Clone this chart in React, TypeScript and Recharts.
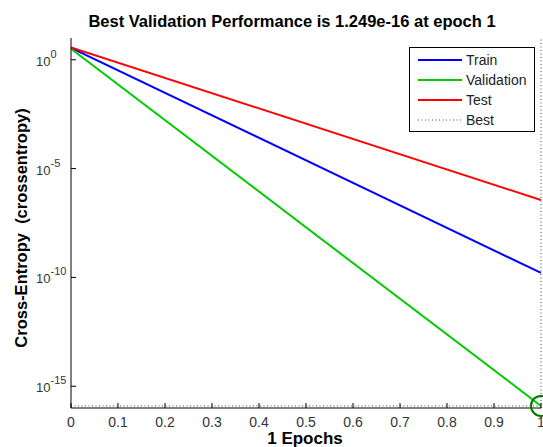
import React from 'react';
import { LineChart, Line, XAxis, YAxis, ReferenceLine, ReferenceDot } from 'recharts';

const epochs = [0, 1];
const trainPerf = [3.55, 1.6e-10];
const validationPerf = [3.2, 1.249e-16];
const testPerf = [3.7, 3.6e-7];
const bestEpoch = 1;
const bestPerf = 1.249e-16;
const xTicks = [0, 0.1, 0.2, 0.3, 0.4, 0.5, 0.6, 0.7, 0.8, 0.9, 1];
const xTickLabels = ['0', '0.1', '0.2', '0.3', '0.4', '0.5', '0.6', '0.7', '0.8', '0.9', '1'];
const yTicks = [1, 1e-5, 1e-10, 1e-15];
const yExponents = ['0', '-5', '-10', '-15'];
const seriesNames = ['Train', 'Validation', 'Test', 'Best'];
const seriesColors = ['#0000ff', '#00cc00', '#ff0000', '#2e5e2e'];

const data = epochs.map((e, i) => ({
  epoch: e,
  train: trainPerf[i],
  validation: validationPerf[i],
  test: testPerf[i],
}));

const FONT = '"Liberation Sans", Arial, Helvetica, sans-serif';

const XTick = (props: any) => {
  const { x, y, payload } = props;
  const idx = xTicks.indexOf(payload.value);
  return (
    <g>
      <line x1={x} y1={y} x2={x} y2={y - 5} stroke="#000" strokeWidth={1} />
      <text x={x} y={y + 19} textAnchor="middle" fontSize={14} fontFamily={FONT} fill="#333">
        {idx >= 0 ? xTickLabels[idx] : String(payload.value)}
      </text>
    </g>
  );
};

const YTick = (props: any) => {
  const { x, y, payload } = props;
  const idx = yTicks.indexOf(payload.value);
  return (
    <g>
      <line x1={x} y1={y} x2={x + 5} y2={y} stroke="#000" strokeWidth={1} />
      <text x={x - 35} y={y + 6} textAnchor="start" fontSize={13} fontFamily={FONT} fill="#333">
        10
        <tspan dy={-8} fontSize={11}>{idx >= 0 ? yExponents[idx] : ''}</tspan>
      </text>
    </g>
  );
};

const LegendBox = () => (
  <div
    style={{
      position: 'absolute',
      left: 409,
      top: 47,
      width: 124,
      height: 83,
      border: '1px solid #000',
      background: '#fff',
      fontFamily: FONT,
      fontSize: 14,
      color: '#222',
    }}
  >
    {seriesNames.map((name, i) => (
      <div key={name} style={{ position: 'absolute', left: 0, top: 2 + i * 20, height: 20, width: 124 }}>
        <svg width={50} height={20} style={{ position: 'absolute', left: 8, top: 0 }}>
          <line
            x1={0}
            y1={10}
            x2={44}
            y2={10}
            stroke={seriesColors[i]}
            strokeWidth={name === 'Best' ? 1 : 2}
            strokeDasharray={name === 'Best' ? '1 2.5' : undefined}
          />
        </svg>
        <span style={{ position: 'absolute', left: 56, top: 1, lineHeight: '18px', whiteSpace: 'nowrap' }}>{name}</span>
      </div>
    ))}
  </div>
);

export default function App() {
  return (
    <div style={{ position: 'absolute', left: 0, top: 0, width: 543, height: 447, background: '#fff', overflow: 'hidden' }}>
      <LineChart width={543} height={447} data={data} margin={{ top: 38, right: 2, bottom: 9, left: 11 }}>
        <XAxis
          dataKey="epoch"
          type="number"
          domain={[0, 1]}
          ticks={xTicks}
          allowDataOverflow
          height={30}
          tickSize={0}
          tickMargin={0}
          tickLine={false}
          axisLine={{ stroke: '#000' }}
          tick={(p: any) => <XTick {...p} />}
          interval={0}
        />
        <YAxis
          type="number"
          scale="log"
          domain={[1e-16, 10]}
          ticks={yTicks}
          allowDataOverflow
          width={60}
          tickSize={0}
          tickMargin={0}
          tickLine={false}
          axisLine={{ stroke: '#000' }}
          tick={(p: any) => <YTick {...p} />}
          interval={0}
        />
        <ReferenceLine y={bestPerf} stroke={seriesColors[3]} strokeWidth={1} strokeDasharray="1 2.5" />
        <ReferenceLine x={bestEpoch} stroke={seriesColors[3]} strokeWidth={1} strokeDasharray="1 2.5" />
        <Line dataKey="train" stroke={seriesColors[0]} strokeWidth={2} dot={false} isAnimationActive={false} />
        <Line dataKey="validation" stroke={seriesColors[1]} strokeWidth={2} dot={false} isAnimationActive={false} />
        <Line dataKey="test" stroke={seriesColors[2]} strokeWidth={2} dot={false} isAnimationActive={false} />
        <ReferenceDot x={bestEpoch} y={bestPerf} r={10} fill="none" stroke="#007a00" strokeWidth={2} />
      </LineChart>
      <LegendBox />
      <svg width={543} height={447} style={{ position: 'absolute', left: 0, top: 0, pointerEvents: 'none' }}>
        <text x={292} y={27} textAnchor="middle" fontSize={16.5} fontWeight="bold" fontFamily={FONT} fill="#000">
          Best Validation Performance is 1.249e-16 at epoch 1
        </text>
        <text x={305} y={444} textAnchor="middle" fontSize={17} fontWeight="bold" fontFamily={FONT} fill="#000">
          1 Epochs
        </text>
        <text
          x={27}
          y={228}
          textAnchor="middle"
          fontSize={16.5}
          fontWeight="bold"
          fontFamily={FONT}
          fill="#000"
          transform="rotate(-90 27 228)"
        >
          {'Cross-Entropy\u00a0 (crossentropy)'}
        </text>
      </svg>
    </div>
  );
}
